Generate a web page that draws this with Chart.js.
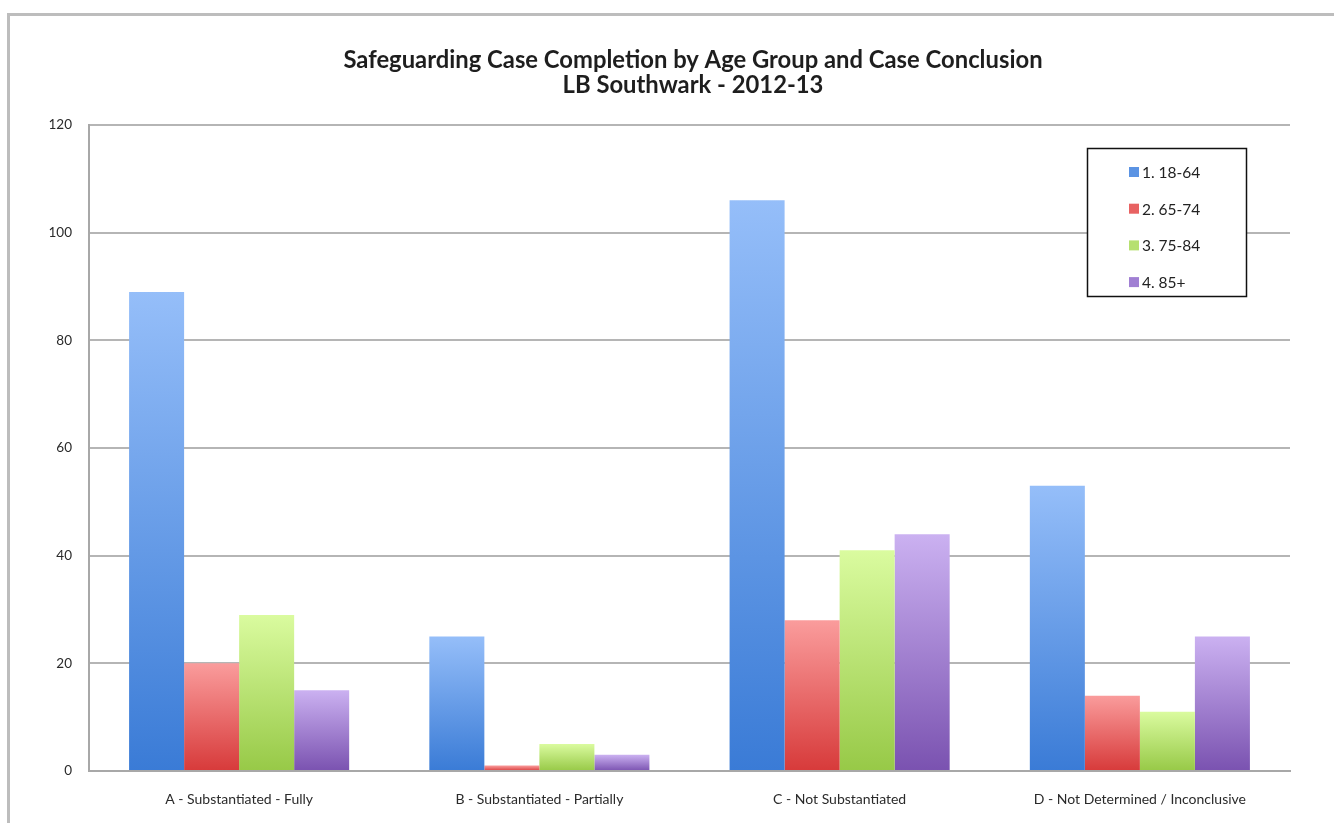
<!DOCTYPE html>
<html>
<head>
<meta charset="utf-8">
<script src="https://cdn.jsdelivr.net/npm/chart.js@4/dist/chart.umd.min.js"></script>
<style>
  html, body { margin: 0; padding: 0; background: #fff; }
  #wrap { position: relative; width: 1334px; height: 823px; }
</style>
</head>
<body>
<div id="wrap"><canvas id="myChart" width="1334" height="823"></canvas></div>
<script>
var categories = ["A - Substantiated - Fully", "B - Substantiated - Partially", "C - Not Substantiated", "D - Not Determined / Inconclusive"];
var seriesNames = ["1. 18-64", "2. 65-74", "3. 75-84", "4. 85+"];
var age1864 = [89, 25, 106, 53];
var age6574 = [20, 1, 28, 14];
var age7584 = [29, 5, 41, 11];
var age85 = [15, 3, 44, 25];
var titleLines = ["Safeguarding Case Completion by Age Group and Case Conclusion", "LB Southwark - 2012-13"];

// top colour, bottom colour, legend swatch
var palette = [
  ["#95bef9", "#3a7bd6", "#5b93e3"],
  ["#fa9c9c", "#d73a3a", "#e86262"],
  ["#dafb9f", "#97c947", "#b6e070"],
  ["#cbb1f1", "#7a52b0", "#a07fd3"]
];

function barGradient(idx) {
  return function (context) {
    var chart = context.chart;
    if (!chart.chartArea) return palette[idx][2];
    var y = chart.scales.y;
    var top = y.getPixelForValue(context.raw);
    var base = y.getPixelForValue(0);
    if (base - top < 1) return palette[idx][1];
    var g = chart.ctx.createLinearGradient(0, top, 0, base);
    g.addColorStop(0, palette[idx][0]);
    g.addColorStop(1, palette[idx][1]);
    return g;
  };
}

var frameAndTitle = {
  id: 'frameAndTitle',
  beforeDraw: function (chart) {
    var ctx = chart.ctx;
    ctx.save();
    ctx.fillStyle = '#fff';
    ctx.fillRect(0, 0, chart.width, chart.height);
    ctx.strokeStyle = '#bdbdbd';
    ctx.lineWidth = 3;
    ctx.beginPath();
    ctx.moveTo(8.5, 830);
    ctx.lineTo(8.5, 14.5);
    ctx.lineTo(1334, 14.5);
    ctx.stroke();
    ctx.fillStyle = '#1e1e1e';
    ctx.font = 'bold 23.8px Lato';
    ctx.textAlign = 'center';
    ctx.textBaseline = 'middle';
    ctx.fillText(titleLines[0], 693, 60);
    ctx.fillText(titleLines[1], 693, 85);
    ctx.restore();
  }
};

var boxLegend = {
  id: 'boxLegend',
  afterDraw: function (chart) {
    var ctx = chart.ctx;
    ctx.save();
    ctx.fillStyle = '#fff';
    ctx.fillRect(1087, 148, 160, 149);
    ctx.strokeStyle = '#111';
    ctx.lineWidth = 1.5;
    ctx.strokeRect(1087.5, 148.5, 159, 148);
    ctx.font = '15.5px Lato';
    ctx.textBaseline = 'middle';
    ctx.textAlign = 'left';
    chart.data.datasets.forEach(function (ds, i) {
      var yy = 172 + i * 36.7;
      ctx.fillStyle = palette[i][2];
      ctx.fillRect(1129, yy - 5, 10, 10);
      ctx.fillStyle = '#222';
      ctx.fillText(ds.label, 1142, yy + 1);
    });
    ctx.restore();
  }
};

var datasetsList = [age1864, age6574, age7584, age85].map(function (vals, i) {
  return {
    label: seriesNames[i],
    data: vals,
    backgroundColor: barGradient(i),
    borderWidth: 0,
    categoryPercentage: 0.733,
    barPercentage: 1.0
  };
});

var myChart = document.getElementById("myChart").getContext('2d');
var chart = new Chart(myChart, {
  type: 'bar',
  data: {
    labels: categories,
    datasets: datasetsList
  },
  options: {
    responsive: false,
    animation: false,
    layout: { padding: { top: 125, right: 44, left: 0, bottom: 0 } },
    plugins: {
      legend: { display: false },
      title: { display: false },
      tooltip: { enabled: false }
    },
    scales: {
      x: {
        grid: { display: false, drawTicks: false },
        border: { display: true, color: '#a8a8a8', width: 2 },
        ticks: { color: '#2a2a2a', font: { family: 'Lato', size: 14 }, padding: 20, maxRotation: 0 },
        afterFit: function (scale) { scale.height = 52; }
      },
      y: {
        min: 0,
        max: 120,
        ticks: { stepSize: 20, color: '#2a2a2a', font: { family: 'Lato', size: 13.5 }, padding: 17 },
        grid: { color: '#b5b5b5', lineWidth: 2, drawTicks: false },
        border: { display: true, color: '#a8a8a8', width: 2 },
        afterFit: function (scale) { scale.width = 89; }
      }
    }
  },
  plugins: [frameAndTitle, boxLegend]
});
</script>
</body>
</html>
